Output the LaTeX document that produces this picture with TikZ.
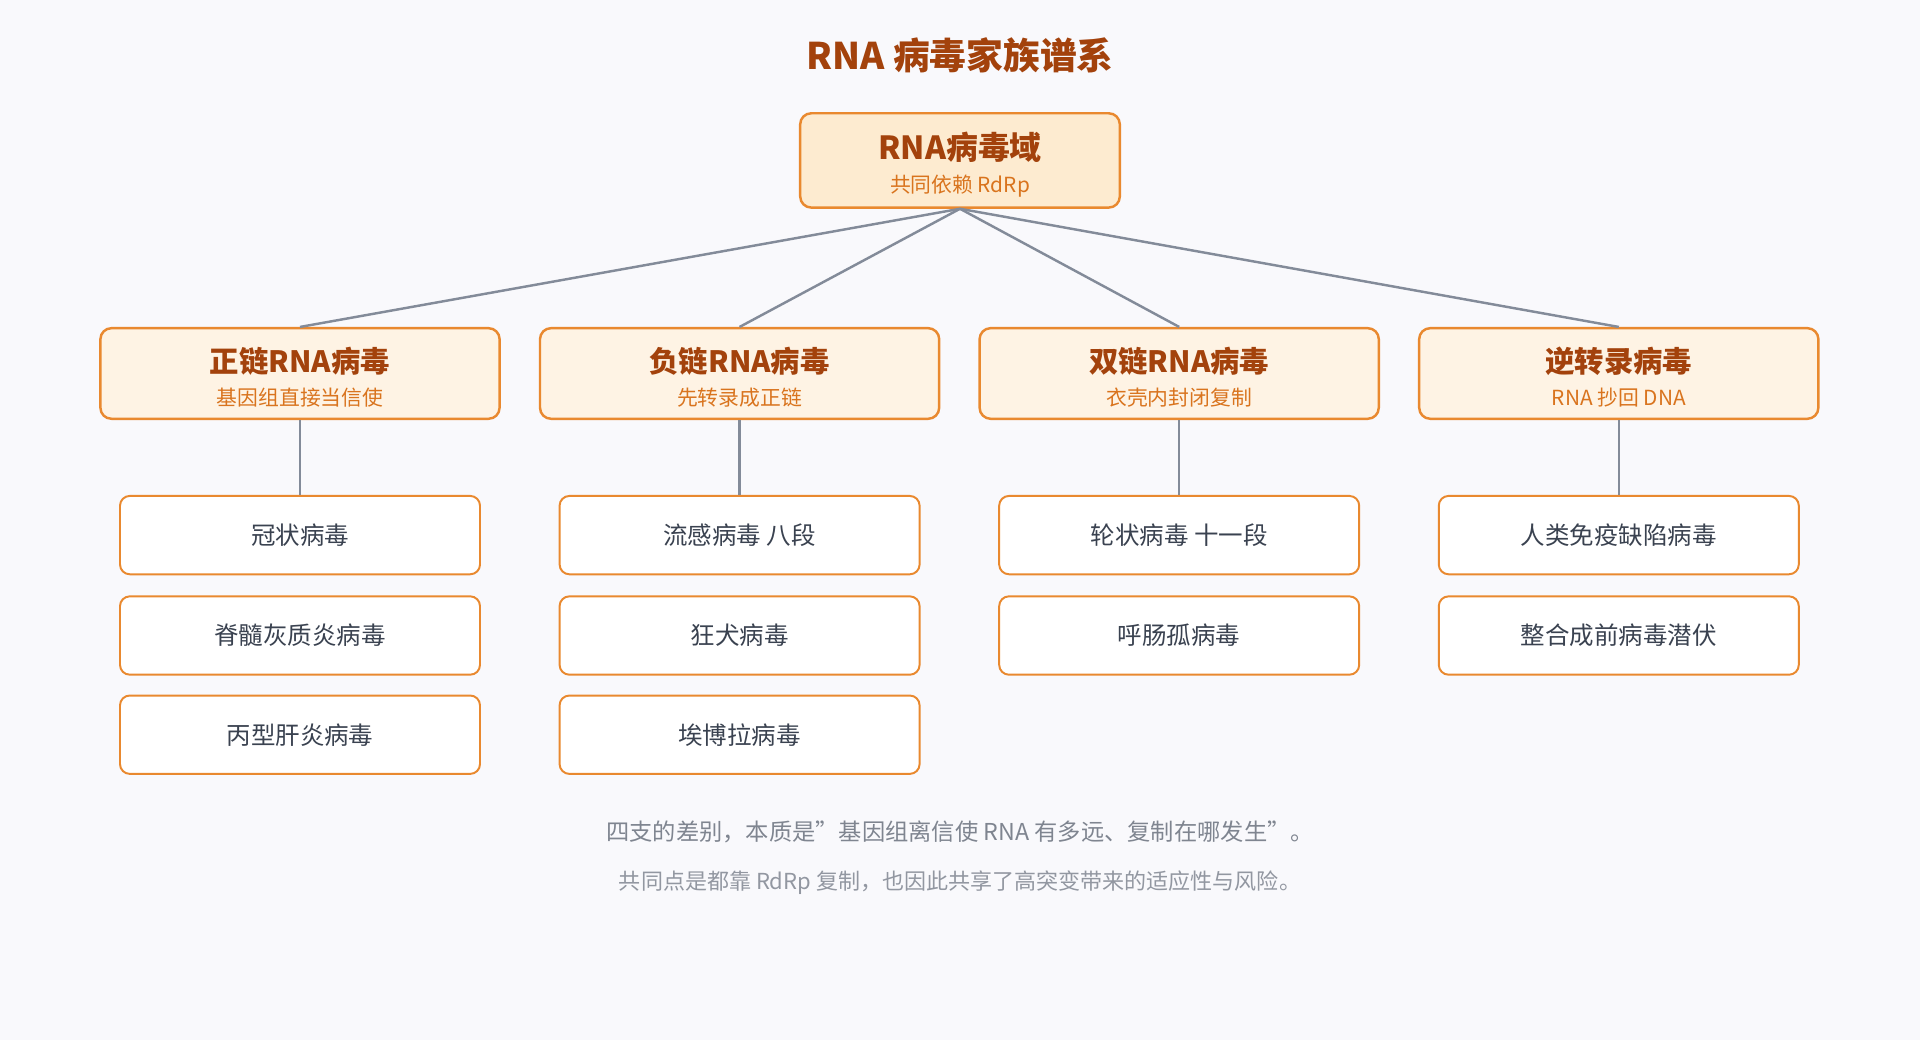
\documentclass[tikz,border=0pt]{standalone}
\usepackage{fontspec}
\setmainfont{Noto Sans CJK SC}
\usetikzlibrary{positioning}
\definecolor{titlebrown}{HTML}{A3420C}
\definecolor{boxorange}{HTML}{E9892F}
\definecolor{suborange}{HTML}{D9741E}
\definecolor{rootfill}{HTML}{FDEBD0}
\definecolor{famfill}{HTML}{FEF3E4}
\definecolor{linegray}{HTML}{838B99}
\definecolor{leaftext}{HTML}{3A4250}
\definecolor{notegray}{HTML}{7F8590}
\definecolor{bggray}{HTML}{F9F9FC}
\begin{document}
\begin{tikzpicture}[x=1pt,y=-1pt]
	\tikzstyle{root}=[rectangle, rounded corners=9pt, draw=boxorange, line width=2pt, fill=rootfill, minimum width=261pt, minimum height=77pt]
	\tikzstyle{family}=[rectangle, rounded corners=9pt, draw=boxorange, line width=2pt, fill=famfill, minimum width=326pt, minimum height=74pt]
	\tikzstyle{leaf}=[rectangle, rounded corners=8pt, draw=boxorange, line width=1.6pt, fill=white, minimum width=294pt, minimum height=64pt, text=leaftext, font=\fontsize{20}{24}\selectfont]
	\tikzstyle{head}=[text=titlebrown, font=\fontsize{24}{28}\selectfont\bfseries]
	\tikzstyle{sub}=[text=suborange, font=\fontsize{17}{20}\selectfont]
	\tikzstyle{link}=[draw=linegray, line width=2pt]
	\tikzstyle{note}=[text=notegray, font=\fontsize{19}{23}\selectfont]

	\fill[bggray] (0,0) rectangle (1568,849);
	\useasboundingbox (0,0) rectangle (1568,849);

	\node [text=titlebrown, font=\fontsize{30}{34}\selectfont\bfseries] (title) at (784,45) {RNA 病毒家族谱系};

	\node [root] (rna) at (784,131) {};
	\node [head, font=\fontsize{26}{30}\selectfont\bfseries] (rnah) at (784,120) {RNA病毒域};
	\node [sub] (rnas) at (784,152) {共同依赖 RdRp};

	\node [family] (pos) at (245,305) {};
	\node [family] (neg) at (604,305) {};
	\node [family] (ds) at (963,305) {};
	\node [family] (rt) at (1322,305) {};
	\node [head] (posh) at (245,295) {正链RNA病毒};
	\node [sub] (poss) at (245,325) {基因组直接当信使};
	\node [head] (negh) at (604,295) {负链RNA病毒};
	\node [sub] (negs) at (604,325) {先转录成正链};
	\node [head] (dsh) at (963,295) {双链RNA病毒};
	\node [sub] (dss) at (963,325) {衣壳内封闭复制};
	\node [head] (rth) at (1322,295) {逆转录病毒};
	\node [sub] (rts) at (1322,325) {RNA 抄回 DNA};

	\draw [link] (rna.south) -- (pos.north);
	\draw [link] (rna.south) -- (neg.north);
	\draw [link] (rna.south) -- (ds.north);
	\draw [link] (rna.south) -- (rt.north);

	\node [leaf] (corona) at (245,437) {冠状病毒};
	\node [leaf] (polio) at (245,519) {脊髓灰质炎病毒};
	\node [leaf] (hcv) at (245,600) {丙型肝炎病毒};
	\node [leaf] (flu) at (604,437) {流感病毒 八段};
	\node [leaf] (rabies) at (604,519) {狂犬病毒};
	\node [leaf] (ebola) at (604,600) {埃博拉病毒};
	\node [leaf] (rota) at (963,437) {轮状病毒 十一段};
	\node [leaf] (reo) at (963,519) {呼肠孤病毒};
	\node [leaf] (hiv) at (1322,437) {人类免疫缺陷病毒};
	\node [leaf] (latent) at (1322,519) {整合成前病毒潜伏};

	\draw [link] (pos.south) -- (corona.north);
	\draw [link] (neg.south) -- (flu.north);
	\draw [link] (ds.south) -- (rota.north);
	\draw [link] (rt.south) -- (hiv.north);

	\node [note] (note1) at (784,679) {四支的差别，本质是"基因组离信使 RNA 有多远、复制在哪发生"。};
	\node [note, text=notegray!85, font=\fontsize{18}{22}\selectfont] (note2) at (784,721) {共同点是都靠 RdRp 复制，也因此共享了高突变带来的适应性与风险。};
\end{tikzpicture}
\end{document}
